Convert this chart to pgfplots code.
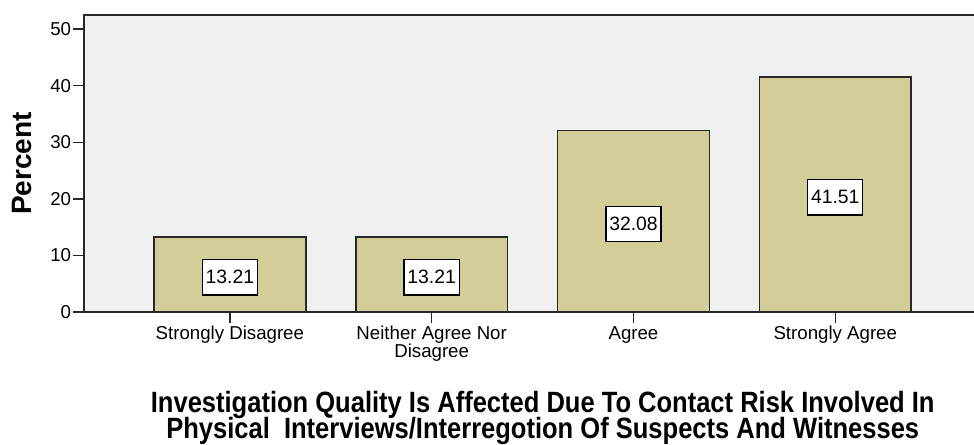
\documentclass[border=0pt]{standalone}
\usepackage{pgfplots}
\pgfplotsset{compat=1.18}
\usepackage{fontspec}
\setmainfont{Liberation Sans}
\newfontfamily\narrowfont[FakeStretch=0.87]{Liberation Sans}
\newcommand\titlefont{\narrowfont\bfseries\fontsize{22}{19}\selectfont\lineskiplimit=-20pt\relax}
\definecolor{barfill}{RGB}{211,206,151}
\definecolor{plotbg}{RGB}{240,240,240}
\definecolor{frame}{RGB}{40,40,40}

\begin{document}
\begin{tikzpicture}
\path[use as bounding box] (-63pt,-99pt) rectangle (667.5pt,234pt);
\begin{axis}[
    scale only axis,
    width=670pt, height=222.75pt,
    xmin=-0.7228, xmax=3.704,
    ymin=0, ymax=52.5,
    axis background/.style={fill=plotbg},
    axis line style={frame, line width=1.2pt},
    xtick={0,1,2,3},
    xticklabels={Strongly Disagree, {Neither Agree Nor\\Disagree}, Agree, Strongly Agree},
    xticklabel style={align=center, font=\fontsize{14}{13.5}\selectfont, inner sep=2pt},
    ytick={0,10,...,50},
    yticklabel style={font=\fontsize{14}{14}\selectfont, inner sep=1pt},
    tick align=outside, xtick pos=bottom, ytick pos=left,
    major tick length=8.5pt,
    tick style={frame, line width=1pt},
    /pgf/number format/assume math mode=true,
    ylabel={\bfseries Percent},
    ylabel style={font=\fontsize{21}{21}\selectfont, at={(axis description cs:0,0.5)}, anchor=center, yshift=46.5pt},
    xlabel={Investigation Quality Is Affected Due To Contact Risk Involved In\\Physical\ \ Interviews/Interregotion Of Suspects And Witnesses},
    xlabel style={font=\titlefont, align=center,
        at={(axis description cs:0.5135,0)}, anchor=north, inner sep=0pt, yshift=-59.5pt},
]
\addplot[ybar, bar width=0.7525, fill=barfill, draw=frame, line width=1.2pt]
    coordinates {(0,13.21) (1,13.21) (2,32.08) (3,41.51)};
\addplot[draw=none, nodes near coords, point meta=explicit symbolic,
    nodes near coords style={anchor=center, yshift=-2pt, fill=white, draw=black, line width=1pt,
        font=\fontsize{14.5}{14.5}\selectfont, inner xsep=2.5pt, minimum height=26.5pt}]
    coordinates {(0,6.605)[13.21] (1,6.605)[13.21] (2,16.04)[32.08] (3,20.755)[41.51]};
\end{axis}
\end{tikzpicture}
\end{document}
